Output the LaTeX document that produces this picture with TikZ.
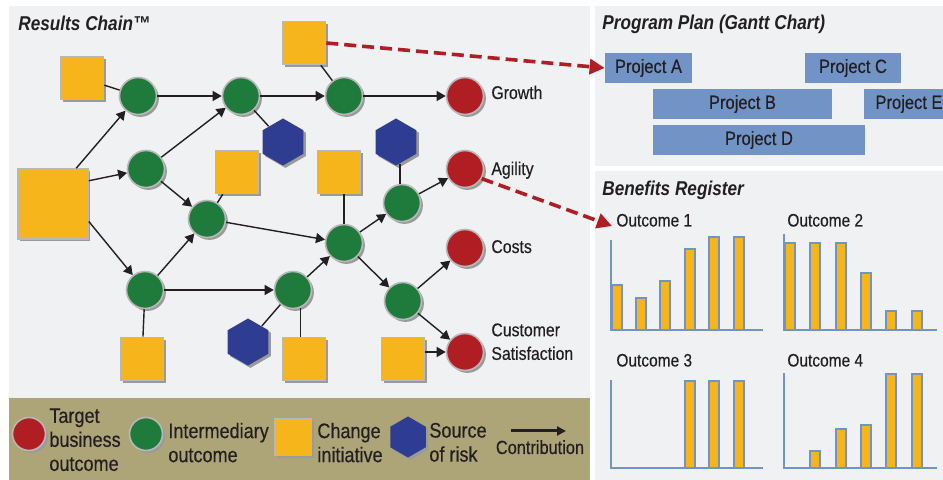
\documentclass[tikz,border=0pt]{standalone}
\usepackage{fontspec}
\setmainfont{Liberation Sans}[FakeStretch=0.86, UprightFeatures={FakeBold=0.35}]
\usetikzlibrary{arrows.meta,shapes.geometric,shadows}

\definecolor{ink}{HTML}{231F20}
\definecolor{panelgray}{HTML}{F0F1F3}
\definecolor{legendtan}{HTML}{ADA477}
\definecolor{tred}{HTML}{B01E24}
\definecolor{igreen}{HTML}{1E7B3C}
\definecolor{cyellow}{HTML}{F7B51C}
\definecolor{rblue}{HTML}{2E3C92}
\definecolor{gblue}{HTML}{7193C5}
\definecolor{rimgray}{HTML}{B8B8B8}
\definecolor{shadegray}{HTML}{9A9A9A}

\tikzset{
  rcshadow/.style={drop shadow={shadow xshift=1.2pt, shadow yshift=-1.2pt, fill=shadegray, opacity=1}},
  rcbubble/.style={circle, inner sep=0pt, minimum size=18.5pt, draw=rimgray, line width=0.8pt, rcshadow},
  rctarget/.style={rcbubble, fill=tred},
  rcinter/.style={rcbubble, fill=igreen},
  rcchange/.style={rectangle, inner sep=0pt, minimum size=21.5pt, fill=cyellow, draw=rimgray, line width=0.8pt, rcshadow},
  rcrisk/.style={regular polygon, regular polygon sides=6, shape border rotate=30, inner sep=0pt, minimum size=23.5pt, fill=rblue, rcshadow},
  rcarrow/.style={draw=ink, line width=0.7pt, -{Triangle[length=4.5pt,width=5pt]}},
  rctie/.style={draw=ink, line width=0.7pt},
  rclink/.style={draw=tred, line width=1.8pt, dash pattern=on 6pt off 3pt, -{Triangle[length=7.5pt,width=7.5pt]}},
  rclabel/.style={text=ink, font=\fontsize{9.2}{11.8}\selectfont, inner sep=0pt, align=left},
  rctitle/.style={text=ink, font=\fontsize{10}{12}\selectfont\bfseries\itshape, inner sep=0pt, anchor=base west},
  rclegend/.style={text=ink, font=\fontsize{10.5}{12}\selectfont, inner sep=0pt, align=left, anchor=north west},
  rcbar/.style={rectangle, fill=gblue, inner sep=0pt, minimum height=15pt, text=ink, font=\fontsize{9.6}{11}\selectfont},
  rcoutlbl/.style={text=ink, font=\fontsize{9}{11}\selectfont, inner sep=0pt, anchor=base west},
  rcaxis/.style={draw=gblue, line width=1pt},
  rcpillar/.style={fill=cyellow, draw=gblue, line width=0.75pt},
}

\begin{document}
\begin{tikzpicture}[x=0.5pt, y=-0.5pt]
\useasboundingbox (0,0) rectangle (943,480);
\clip (0,0) rectangle (943,480);
\fill[white] (0,0) rectangle (943,480);

% panels
\fill[panelgray] (9,6) rectangle (590,398);
\fill[legendtan] (9,398) rectangle (590,480);
\fill[panelgray] (595,6) rectangle (943,166);
\fill[panelgray] (595,171) rectangle (943,480);

% titles
\node[rctitle] (t1) at (18,31) {Results Chain™};
\node[rctitle] (t2) at (602,30) {Program Plan (Gantt Chart)};
\node[rctitle] (t3) at (602,196) {Benefits Register};

% change initiatives
\node[rcchange] (s1) at (82,78) {};
\node[rcchange, minimum size=35pt] (s2) at (53,204) {};
\node[rcchange] (s3) at (304,43) {};
\node[rcchange] (s4) at (237,172) {};
\node[rcchange] (s5) at (339,172) {};
\node[rcchange] (s6) at (142,359) {};
\node[rcchange] (s7) at (304,359) {};
\node[rcchange] (s8) at (403,359) {};

% sources of risk
\node[rcrisk] (h1) at (283,142) {};
\node[rcrisk] (h2) at (396,142) {};
\node[rcrisk] (h3) at (248,342) {};

% intermediary outcomes
\node[rcinter] (g1) at (138,96) {};
\node[rcinter] (g2) at (241,96) {};
\node[rcinter] (g3) at (344,96) {};
\node[rcinter] (g4) at (146,169) {};
\node[rcinter] (g5) at (207,219) {};
\node[rcinter] (g6) at (344,243) {};
\node[rcinter] (g7) at (402,203) {};
\node[rcinter] (g8) at (145,290) {};
\node[rcinter] (g9) at (293,290) {};
\node[rcinter] (g10) at (403,301) {};

% target business outcomes
\node[rctarget] (gr) at (465,96) {};
\node[rctarget] (ag) at (465,169) {};
\node[rctarget] (co) at (465,248) {};
\node[rctarget] (cs) at (465,352) {};

\node[rclabel, anchor=base west] (grl) at (491,99) {Growth};
\node[rclabel, anchor=base west] (agl) at (491,175) {Agility};
\node[rclabel, anchor=base west] (col) at (491,253) {Costs};
\node[rclabel, anchor=north west] (csl) at (491,323) {Customer\\Satisfaction};

% contributions
\draw[rcarrow] (s2.57) -- (g1);
\draw[rcarrow] (s2.33) -- (g4);
\draw[rcarrow] (s2.-26) -- (g8);
\draw[rcarrow] (g1) -- (g2);
\draw[rcarrow] (g2) -- (g3);
\draw[rcarrow] (g3) -- (gr);
\draw[rcarrow] (g4) -- (g2);
\draw[rcarrow] (g4) -- (g5);
\draw[rcarrow] (g5) -- (g6);
\draw[rcarrow] (g6) -- (g7);
\draw[rcarrow] (g7) -- (ag);
\draw[rcarrow] (g8) -- (g5);
\draw[rcarrow] (g8) -- (g9);
\draw[rcarrow] (g9) -- (g6);
\draw[rcarrow] (g6) -- (g10);
\draw[rcarrow] (g10) -- (co);
\draw[rcarrow] (g10) -- (cs);
\draw[rcarrow] (s8.east |- cs) -- (cs);

% attachments
\draw[rctie] (s1) -- (g1);
\draw[rctie] (s3) -- (g3);
\draw[rctie] (g2) -- (h1);
\draw[rctie] (s4) -- (g5);
\draw[rctie] (g6) -- (g6 |- s5.south);
\draw[rctie] (g7.north -| h2.-80) -- (h2.-80);
\draw[rctie] (s6) -- (g8);
\draw[rctie] (g9.-68) -- (g9.-68 |- s7.north);
\draw[rctie] (h3) -- (g9);

% program plan
\node[rcbar, minimum width=43.5pt] (pa) at (648.5,68) {Project A};
\node[rcbar, minimum width=48pt] (pc) at (853,68) {Project C};
\node[rcbar, minimum width=89.5pt] (pb) at (742.5,104) {Project B};
\node[rcbar, minimum width=45pt] (pe) at (909,104) {Project E};
\node[rcbar, minimum width=106pt] (pd) at (759,140) {Project D};

% benefits register
\node[rcoutlbl] (o1) at (616,226.5) {Outcome 1};
\node[rcoutlbl] (o2) at (787,226.5) {Outcome 2};
\node[rcoutlbl] (o3) at (616,366.5) {Outcome 3};
\node[rcoutlbl] (o4) at (787,366.5) {Outcome 4};

\foreach \x/\t in {612/285, 636/298, 660/281, 685/249, 709/237, 734/237}
  \draw[rcpillar] (\x,\t) rectangle (\x+10,330);
\draw[rcaxis] (611,240) -- (611,330) -- (763,330);

\foreach \x/\t in {785/243, 810/243, 836/243, 861/273, 886/311, 912/311}
  \draw[rcpillar] (\x,\t) rectangle (\x+10,330);
\draw[rcaxis] (784,234) -- (784,330) -- (937,330);

\foreach \x/\t in {685/381, 709/381, 734/381}
  \draw[rcpillar] (\x,\t) rectangle (\x+10,468);
\draw[rcaxis] (611,380) -- (611,468) -- (763,468);

\foreach \x/\t in {810/451, 836/429, 861/425, 886/374, 912/374}
  \draw[rcpillar] (\x,\t) rectangle (\x+10,468);
\draw[rcaxis] (784,373) -- (784,468) -- (937,468);

% links to plan and register
\coordinate (o1tip) at (612,226);
\draw[rclink] (s3.east) -- (pa.west);
\draw[rclink] (ag.-30) -- (o1tip);

% legend
\node[rctarget, minimum size=16.5pt] (lg1) at (29,434) {};
\node[rclegend] (lt1) at (49,408) {Target\\business\\outcome};
\node[rcinter, minimum size=16.5pt] (lg2) at (146,434) {};
\node[rclegend] (lt2) at (168,422.5) {Intermediary\\outcome};
\node[rcchange, minimum size=18.5pt] (lg3) at (293,437) {};
\node[rclegend] (lt3) at (317,422.5) {Change\\initiative};
\node[rcrisk, minimum size=20.5pt] (lg4) at (408,437) {};
\node[rclegend] (lt4) at (429,422.5) {Source\\of risk};
\coordinate (la) at (511,431);
\coordinate (lb) at (566,431);
\draw[draw=ink, line width=1.5pt, -{Triangle[length=4.5pt,width=4.5pt]}] (la) -- (lb);
\node[text=ink, font=\fontsize{9.5}{11}\selectfont, inner sep=0pt, anchor=base] (lt5) at (540,454) {Contribution};
\end{tikzpicture}
\end{document}
